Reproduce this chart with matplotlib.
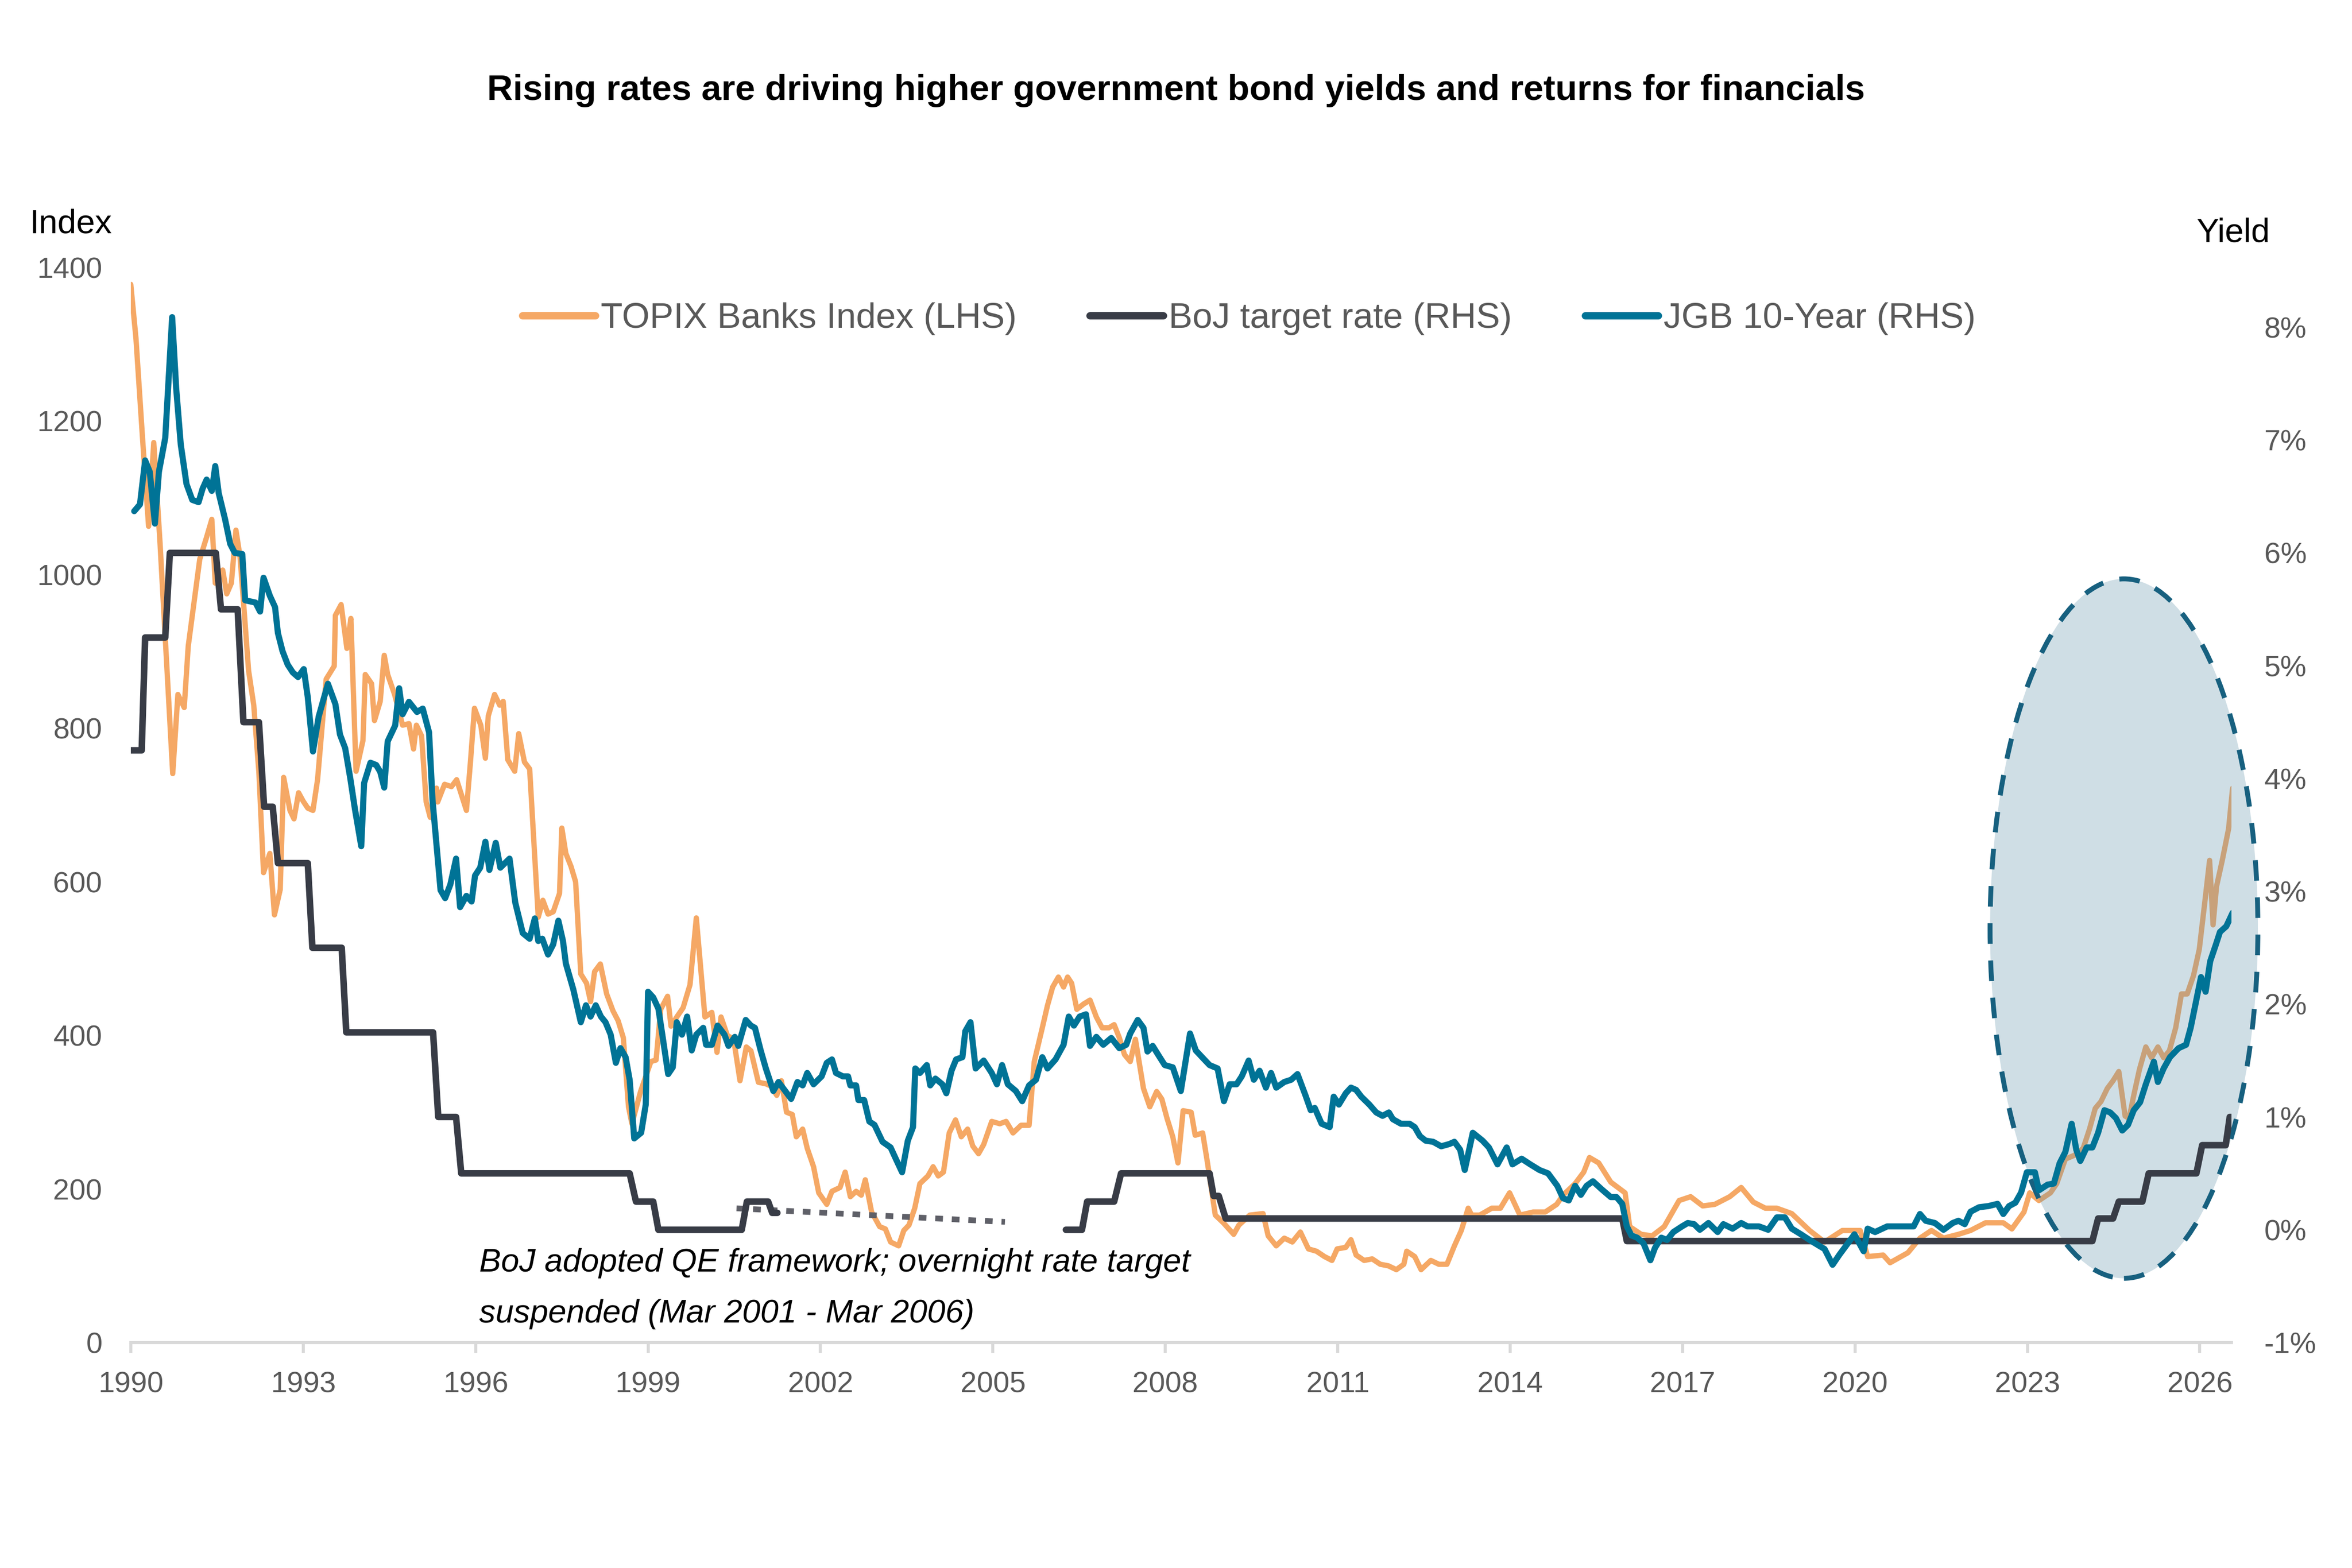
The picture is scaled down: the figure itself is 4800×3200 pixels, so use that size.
import numpy as np
import matplotlib.pyplot as plt
from matplotlib.lines import Line2D
from matplotlib.patches import Ellipse

# ---- data (decimal years) ----
topix_dates = [
    1990.00, 1990.09, 1990.20, 1990.31, 1990.40, 1990.51, 1990.73, 1990.82, 1990.93, 1991.00,
    1991.20, 1991.32, 1991.41, 1991.47, 1991.60, 1991.67, 1991.75, 1991.83, 1991.90, 1991.96,
    1992.05, 1992.14, 1992.23, 1992.31, 1992.42, 1992.50, 1992.60, 1992.66, 1992.77, 1992.84,
    1992.92, 1993.00, 1993.08, 1993.17, 1993.25, 1993.40, 1993.54, 1993.56, 1993.66, 1993.76,
    1993.83, 1993.92, 1994.04, 1994.08, 1994.19, 1994.24, 1994.34, 1994.41, 1994.47, 1994.59,
    1994.73, 1994.84, 1994.92, 1994.97, 1995.06, 1995.14, 1995.21, 1995.32, 1995.34, 1995.46,
    1995.58, 1995.67, 1995.84, 1995.91, 1995.98, 1996.09, 1996.17, 1996.22, 1996.33, 1996.42,
    1996.48, 1996.56, 1996.68, 1996.75, 1996.85, 1996.94, 1997.00, 1997.09, 1997.17, 1997.26,
    1997.35, 1997.46, 1997.50, 1997.57, 1997.66, 1997.74, 1997.83, 1997.93, 1998.00, 1998.07,
    1998.17, 1998.28, 1998.39, 1998.48, 1998.57, 1998.66, 1998.72, 1998.87, 1999.05, 1999.14,
    1999.22, 1999.34, 1999.40, 1999.50, 1999.61, 1999.73, 1999.84, 1999.99, 2000.11, 2000.20,
    2000.27, 2000.38, 2000.49, 2000.60, 2000.71, 2000.79, 2000.92, 2001.05, 2001.14, 2001.24,
    2001.32, 2001.41, 2001.51, 2001.58, 2001.69, 2001.77, 2001.88, 2001.97, 2002.11, 2002.20,
    2002.34, 2002.43, 2002.52, 2002.62, 2002.71, 2002.78, 2002.89, 2003.03, 2003.13, 2003.22,
    2003.36, 2003.45, 2003.54, 2003.64, 2003.73, 2003.87, 2003.96, 2004.05, 2004.14, 2004.24,
    2004.35, 2004.45, 2004.56, 2004.65, 2004.75, 2004.84, 2004.98, 2005.12, 2005.23, 2005.35,
    2005.49, 2005.63, 2005.72, 2005.86, 2005.95, 2006.04, 2006.14, 2006.23, 2006.30, 2006.37,
    2006.46, 2006.58, 2006.69, 2006.80, 2006.90, 2007.02, 2007.11, 2007.20, 2007.29, 2007.39,
    2007.48, 2007.62, 2007.73, 2007.85, 2007.94, 2008.03, 2008.13, 2008.22, 2008.31, 2008.45,
    2008.52, 2008.65, 2008.73, 2008.87, 2009.01, 2009.19, 2009.28, 2009.47, 2009.70, 2009.79,
    2009.93, 2010.07, 2010.21, 2010.35, 2010.49, 2010.63, 2010.77, 2010.90, 2010.99, 2011.14,
    2011.23, 2011.32, 2011.46, 2011.60, 2011.74, 2011.88, 2012.02, 2012.15, 2012.20, 2012.34,
    2012.45, 2012.62, 2012.76, 2012.90, 2013.03, 2013.15, 2013.27, 2013.33, 2013.47, 2013.68,
    2013.83, 2013.99, 2014.17, 2014.40, 2014.61, 2014.81, 2014.92, 2015.13, 2015.28, 2015.38,
    2015.54, 2015.75, 2016.00, 2016.08, 2016.28, 2016.47, 2016.68, 2016.94, 2017.14, 2017.35,
    2017.56, 2017.82, 2018.02, 2018.23, 2018.44, 2018.64, 2018.90, 2019.21, 2019.47, 2019.78,
    2020.09, 2020.22, 2020.49, 2020.61, 2020.92, 2021.13, 2021.33, 2021.54, 2021.80, 2022.01,
    2022.27, 2022.58, 2022.73, 2022.94, 2023.04, 2023.20, 2023.40, 2023.51, 2023.66, 2023.82,
    2023.97, 2024.08, 2024.18, 2024.28, 2024.39, 2024.49, 2024.59, 2024.70, 2024.77, 2024.85,
    2024.95, 2025.06, 2025.16, 2025.27, 2025.37, 2025.47, 2025.58, 2025.68, 2025.78, 2025.89,
    2025.99, 2026.09, 2026.17, 2026.23, 2026.29, 2026.39, 2026.50, 2026.57,
]
topix_values = [
    1378, 1308, 1183, 1063, 1172, 1040, 741, 844, 827, 907,
    1020, 1049, 1072, 989, 1006, 975, 989, 1058, 1024, 966,
    875, 830, 742, 612, 637, 557, 590, 736, 693, 682,
    716, 705, 696, 693, 733, 864, 881, 947, 961, 904,
    943, 744, 784, 870, 858, 810, 835, 895, 870, 844,
    804, 806, 773, 804, 790, 704, 684, 722, 704, 727,
    724, 733, 693, 756, 826, 804, 761, 816, 844, 830,
    835, 759, 744, 793, 756, 747, 670, 554, 576, 558,
    561, 585, 670, 637, 620, 600, 480, 468, 444, 483,
    493, 454, 432, 419, 397, 307, 285, 327, 366, 368,
    434, 451, 412, 424, 436, 466, 553, 424, 430, 378,
    424, 400, 395, 341, 385, 380, 339, 337, 334, 322,
    341, 300, 297, 268, 278, 253, 229, 195, 180, 197,
    202, 222, 190, 197, 192, 212, 170, 151, 148, 131,
    126, 146, 153, 175, 207, 217, 229, 217, 222, 273,
    290, 268, 278, 256, 246, 258, 288, 285, 288, 273,
    283, 283, 366, 410, 439, 463, 476, 463, 476, 468,
    434, 441, 446, 424, 410, 410, 414, 397, 375, 366,
    395, 331, 307, 327, 317, 292, 268, 234, 302, 300,
    270, 273, 236, 166, 156, 141, 153, 166, 168, 139,
    126, 136, 131, 144, 122, 119, 112, 107, 122, 124,
    134, 114, 107, 109, 102, 100, 95, 102, 119, 112,
    95, 107, 102, 102, 126, 146, 175, 166, 166, 175,
    175, 195, 166, 170, 170, 180, 192, 207, 222, 241,
    234, 209, 195, 151, 141, 139, 151, 185, 190, 178,
    180, 190, 202, 183, 175, 175, 168, 146, 131, 146,
    146, 112, 114, 104, 117, 136, 146, 136, 141, 146,
    156, 156, 148, 170, 195, 185, 195, 207, 239, 244,
    253, 278, 305, 314, 331, 341, 353, 295, 292, 322,
    356, 385, 371, 385, 371, 380, 410, 454, 454, 478,
    512, 576, 628, 544, 594, 628, 669, 722,
]

jgb_dates = [
    1990.06, 1990.16, 1990.25, 1990.33, 1990.42, 1990.49, 1990.60, 1990.72, 1990.79, 1990.87,
    1990.97, 1991.07, 1991.18, 1991.25, 1991.32, 1991.41, 1991.47, 1991.53, 1991.64, 1991.73,
    1991.81, 1991.94, 1991.99, 1992.17, 1992.25, 1992.31, 1992.42, 1992.51, 1992.56, 1992.64,
    1992.73, 1992.82, 1992.91, 1993.01, 1993.08, 1993.17, 1993.27, 1993.43, 1993.56, 1993.64,
    1993.73, 1993.82, 1993.90, 1994.01, 1994.06, 1994.17, 1994.27, 1994.34, 1994.41, 1994.47,
    1994.60, 1994.67, 1994.73, 1994.84, 1994.98, 1995.08, 1995.19, 1995.25, 1995.39, 1995.47,
    1995.56, 1995.66, 1995.73, 1995.84, 1995.93, 1995.99, 1996.08, 1996.17, 1996.24, 1996.35,
    1996.43, 1996.59, 1996.69, 1996.82, 1996.94, 1997.03, 1997.09, 1997.16, 1997.26, 1997.35,
    1997.44, 1997.52, 1997.57, 1997.70, 1997.83, 1997.92, 1998.00, 1998.09, 1998.18, 1998.26,
    1998.35, 1998.44, 1998.52, 1998.61, 1998.68, 1998.76, 1998.88, 1998.96, 1999.00, 1999.09,
    1999.18, 1999.26, 1999.35, 1999.43, 1999.50, 1999.59, 1999.68, 1999.76, 1999.84, 1999.96,
    2000.01, 2000.11, 2000.21, 2000.33, 2000.40, 2000.51, 2000.57, 2000.70, 2000.79, 2000.86,
    2000.96, 2001.05, 2001.18, 2001.27, 2001.49, 2001.60, 2001.69, 2001.77, 2001.88, 2002.02,
    2002.11, 2002.20, 2002.27, 2002.39, 2002.48, 2002.52, 2002.62, 2002.66, 2002.76, 2002.85,
    2002.94, 2003.08, 2003.22, 2003.31, 2003.42, 2003.52, 2003.61, 2003.65, 2003.73, 2003.85,
    2003.91, 2004.00, 2004.12, 2004.19, 2004.28, 2004.36, 2004.47, 2004.52, 2004.61, 2004.70,
    2004.84, 2004.98, 2005.07, 2005.16, 2005.26, 2005.40, 2005.51, 2005.63, 2005.75, 2005.86,
    2005.95, 2006.09, 2006.23, 2006.32, 2006.41, 2006.51, 2006.62, 2006.69, 2006.80, 2006.92,
    2007.06, 2007.20, 2007.32, 2007.39, 2007.52, 2007.62, 2007.69, 2007.78, 2007.89, 2007.99,
    2008.13, 2008.27, 2008.43, 2008.53, 2008.64, 2008.77, 2008.91, 2009.02, 2009.12, 2009.24,
    2009.33, 2009.45, 2009.54, 2009.64, 2009.75, 2009.84, 2009.93, 2010.07, 2010.19, 2010.30,
    2010.44, 2010.53, 2010.60, 2010.72, 2010.86, 2010.93, 2011.02, 2011.14, 2011.23, 2011.32,
    2011.41, 2011.55, 2011.67, 2011.78, 2011.89, 2011.96, 2012.10, 2012.25, 2012.34, 2012.43,
    2012.53, 2012.66, 2012.80, 2012.94, 2013.03, 2013.13, 2013.21, 2013.35, 2013.52, 2013.63,
    2013.78, 2013.94, 2014.04, 2014.20, 2014.35, 2014.51, 2014.66, 2014.82, 2014.92, 2015.02,
    2015.13, 2015.23, 2015.33, 2015.44, 2015.59, 2015.75, 2015.85, 2015.95, 2016.03, 2016.11,
    2016.21, 2016.32, 2016.44, 2016.52, 2016.63, 2016.73, 2016.84, 2016.99, 2017.09, 2017.20,
    2017.30, 2017.45, 2017.61, 2017.71, 2017.87, 2018.02, 2018.13, 2018.33, 2018.49, 2018.64,
    2018.78, 2018.90, 2019.06, 2019.21, 2019.37, 2019.47, 2019.61, 2019.73, 2019.89, 2019.99,
    2020.15, 2020.22, 2020.35, 2020.56, 2020.77, 2021.02, 2021.13, 2021.23, 2021.39, 2021.54,
    2021.70, 2021.80, 2021.91, 2022.01, 2022.16, 2022.32, 2022.48, 2022.58, 2022.68, 2022.79,
    2022.89, 2022.99, 2023.13, 2023.20, 2023.35, 2023.46, 2023.56, 2023.66, 2023.77, 2023.85,
    2023.92, 2024.03, 2024.13, 2024.23, 2024.34, 2024.44, 2024.54, 2024.65, 2024.75, 2024.85,
    2024.96, 2025.06, 2025.20, 2025.27, 2025.37, 2025.48, 2025.63, 2025.76, 2025.84, 2025.94,
    2026.02, 2026.10, 2026.18, 2026.28, 2026.35, 2026.46, 2026.57,
]
jgb_yields = [
    6.37, 6.43, 6.82, 6.72, 6.26, 6.72, 7.02, 8.09, 7.46, 6.96,
    6.61, 6.47, 6.45, 6.57, 6.65, 6.55, 6.77, 6.53, 6.30, 6.08,
    6.00, 5.99, 5.58, 5.56, 5.48, 5.78, 5.62, 5.52, 5.29, 5.13,
    5.01, 4.94, 4.90, 4.97, 4.72, 4.24, 4.55, 4.84, 4.66, 4.39,
    4.27, 4.00, 3.73, 3.40, 3.96, 4.14, 4.12, 4.06, 3.92, 4.33,
    4.47, 4.80, 4.57, 4.68, 4.59, 4.62, 4.41, 3.81, 3.01, 2.94,
    3.06, 3.29, 2.86, 2.96, 2.91, 3.14, 3.21, 3.44, 3.19, 3.43,
    3.21, 3.29, 2.90, 2.63, 2.58, 2.76, 2.56, 2.58, 2.44, 2.53,
    2.74, 2.56, 2.36, 2.13, 1.84, 1.99, 1.89, 1.99, 1.89, 1.84,
    1.73, 1.48, 1.61, 1.53, 1.33, 0.81, 0.86, 1.11, 2.11, 2.06,
    1.96, 1.69, 1.38, 1.44, 1.84, 1.73, 1.89, 1.59, 1.73, 1.79,
    1.64, 1.64, 1.81, 1.73, 1.63, 1.71, 1.63, 1.86, 1.81, 1.79,
    1.59, 1.43, 1.23, 1.31, 1.16, 1.31, 1.28, 1.39, 1.29, 1.36,
    1.48, 1.51, 1.39, 1.36, 1.36, 1.28, 1.28, 1.15, 1.15, 0.96,
    0.93, 0.78, 0.73, 0.63, 0.51, 0.79, 0.91, 1.43, 1.39, 1.46,
    1.28, 1.34, 1.29, 1.21, 1.41, 1.51, 1.53, 1.76, 1.84, 1.43,
    1.50, 1.39, 1.29, 1.46, 1.29, 1.23, 1.14, 1.28, 1.33, 1.53,
    1.43, 1.51, 1.64, 1.89, 1.81, 1.89, 1.91, 1.63, 1.71, 1.64,
    1.70, 1.61, 1.64, 1.74, 1.86, 1.79, 1.58, 1.63, 1.54, 1.46,
    1.44, 1.23, 1.74, 1.59, 1.53, 1.46, 1.43, 1.14, 1.29, 1.29,
    1.36, 1.50, 1.33, 1.41, 1.26, 1.39, 1.26, 1.31, 1.33, 1.38,
    1.19, 1.06, 1.08, 0.94, 0.91, 1.18, 1.11, 1.21, 1.26, 1.24,
    1.18, 1.11, 1.04, 1.01, 1.04, 0.98, 0.94, 0.94, 0.91, 0.83,
    0.79, 0.78, 0.74, 0.76, 0.78, 0.71, 0.53, 0.86, 0.79, 0.73,
    0.58, 0.73, 0.58, 0.63, 0.58, 0.53, 0.50, 0.39, 0.28, 0.26,
    0.39, 0.31, 0.39, 0.43, 0.36, 0.29, 0.29, 0.23, 0.03, -0.05,
    -0.07, -0.12, -0.27, -0.16, -0.07, -0.09, -0.02, 0.03, 0.06, 0.05,
    0.00, 0.06, -0.02, 0.05, 0.01, 0.06, 0.03, 0.03, 0.00, 0.11,
    0.11, 0.01, -0.04, -0.09, -0.14, -0.17, -0.31, -0.22, -0.11, -0.04,
    -0.19, 0.01, -0.02, 0.03, 0.03, 0.03, 0.14, 0.08, 0.06, 0.00,
    0.06, 0.08, 0.05, 0.16, 0.20, 0.21, 0.23, 0.14, 0.21, 0.24,
    0.33, 0.51, 0.51, 0.35, 0.40, 0.41, 0.59, 0.69, 0.94, 0.71,
    0.61, 0.73, 0.73, 0.86, 1.06, 1.04, 0.99, 0.88, 0.93, 1.06,
    1.13, 1.29, 1.49, 1.31, 1.43, 1.53, 1.61, 1.64, 1.79, 2.04,
    2.24, 2.11, 2.38, 2.53, 2.64, 2.69, 2.81,
]

nan = float("nan")
boj_dates = [
    1990.00, 1990.19, 1990.25, 1990.60, 1990.68, 1991.48, 1991.57, 1991.86, 1991.96, 1992.23,
    1992.32, 1992.47, 1992.56, 1993.08, 1993.16, 1993.67, 1993.75, 1995.26, 1995.35, 1995.66,
    1995.75, 1998.68, 1998.79, 1999.09, 1999.18, 2000.63, 2000.72, 2001.09, 2001.16, 2001.25,
    2003.50,
    2006.27, 2006.55, 2006.64, 2007.11, 2007.23, 2008.77, 2008.84, 2008.93, 2009.05, 2015.95,
    2016.03, 2024.13, 2024.23, 2024.49, 2024.59, 2025.00, 2025.11, 2025.94, 2026.04, 2026.45,
    2026.52, 2026.57,
]
boj_rates = [
    4.25, 4.25, 5.25, 5.25, 6.00, 6.00, 5.50, 5.50, 4.50, 4.50,
    3.75, 3.75, 3.25, 3.25, 2.50, 2.50, 1.75, 1.75, 1.00, 1.00,
    0.50, 0.50, 0.25, 0.25, 0.00, 0.00, 0.25, 0.25, 0.15, 0.15,
    nan,
    0.00, 0.00, 0.25, 0.25, 0.50, 0.50, 0.30, 0.30, 0.10, 0.10,
    -0.10, -0.10, 0.10, 0.10, 0.25, 0.25, 0.50, 0.50, 0.75, 0.75,
    1.00, 1.00,
]

qe_dates = [2000.54, 2005.21]
qe_rates = [0.19, 0.07]

year_ticks = list(range(1990, 2027, 3))
index_ticks = [0, 200, 400, 600, 800, 1000, 1200, 1400]
yield_ticks = [-1, 0, 1, 2, 3, 4, 5, 6, 7, 8]

ORANGE = "#F5A865"
DARK = "#383C46"
TEAL = "#007396"
GREY_TXT = "#595959"
AXIS_GREY = "#D9D9D9"

plt.rcParams["font.family"] = ["Liberation Sans", "DejaVu Sans"]

fig = plt.figure(figsize=(16, 32 / 3), dpi=300)
ax = fig.add_axes([0.0556, 0.14375, 0.89315, 0.68565])

ax.plot(topix_dates, topix_values, color=ORANGE, lw=2.6,
        solid_joinstyle="round", solid_capstyle="round", zorder=2)
ax.set_xlim(1990, 2026.55)
ax.set_ylim(0, 1400)
ax.set_yticks(index_ticks)
ax.set_xticks(year_ticks)
ax.set_xticklabels([str(y) for y in year_ticks])

for s in ["top", "left", "right"]:
    ax.spines[s].set_visible(False)
ax.spines["bottom"].set_color(AXIS_GREY)
ax.spines["bottom"].set_linewidth(1.5)
ax.tick_params(axis="y", length=0, pad=14, labelsize=14.4, labelcolor=GREY_TXT)
ax.tick_params(axis="x", length=5, width=1.5, color=AXIS_GREY, pad=9,
               labelsize=14.4, labelcolor=GREY_TXT)

ax2 = ax.twinx()
ax2.set_ylim(-1, 8.53)
ax2.set_yticks(yield_ticks)
ax2.set_yticklabels([f"{v}%" for v in yield_ticks])
for s in ax2.spines.values():
    s.set_visible(False)
ax2.tick_params(axis="y", length=0, pad=16, labelsize=14.4, labelcolor=GREY_TXT)

# highlight ellipse (sits above the bank index, below the rate lines)
ell = Ellipse((2024.68, 2.67), 4.66, 6.2,
              facecolor=(98 / 255, 148 / 255, 172 / 255, 0.3),
              edgecolor="#17607F", lw=2.4, linestyle=(0, (4.2, 3.4)),
              clip_on=False, zorder=1)
ax2.add_patch(ell)

ax2.plot(qe_dates, qe_rates, color="#5F6068", lw=2.8,
         linestyle=(0, (1.35, 1.55)), dash_capstyle="butt", zorder=2)
ax2.plot(boj_dates, boj_rates, color=DARK, lw=3.2,
         solid_joinstyle="round", solid_capstyle="round", zorder=3)
ax2.plot(jgb_dates, jgb_yields, color=TEAL, lw=3.0,
         solid_joinstyle="round", solid_capstyle="round", zorder=4)

# titles and labels
fig.text(0.5, 0.93625, "Rising rates are driving higher government bond yields and returns for financials",
         ha="center", va="baseline", fontsize=17.5, fontweight="bold", color="black")
fig.text(61 / 4800, 1 - 475 / 3200, "Index", ha="left", va="baseline", fontsize=16.5, color="black")
fig.text(4482 / 4800, 1 - 494 / 3200, "Yield", ha="left", va="baseline", fontsize=16.5, color="black")

fig.text(978 / 4800, 1 - 2595 / 3200, "BoJ adopted QE framework; overnight rate target",
         ha="left", va="baseline", fontsize=16, style="italic", color="black")
fig.text(978 / 4800, 1 - 2699 / 3200, "suspended (Mar 2001 - Mar 2006)",
         ha="left", va="baseline", fontsize=16, style="italic", color="black")

handles = [
    Line2D([], [], color=ORANGE, lw=3.6, solid_capstyle="round"),
    Line2D([], [], color=DARK, lw=3.6, solid_capstyle="round"),
    Line2D([], [], color=TEAL, lw=3.6, solid_capstyle="round"),
]
labels = ["TOPIX Banks Index (LHS)", "BoJ target rate (RHS)", "JGB 10-Year (RHS)"]
fig.legend(handles, labels, loc="center", bbox_to_anchor=(0.531, 0.7966), ncol=3,
           frameon=False, fontsize=17.5, handlelength=2.05, handletextpad=0.15,
           columnspacing=2.05, labelcolor=GREY_TXT)

fig.savefig("out.png", dpi=300, facecolor="white")
